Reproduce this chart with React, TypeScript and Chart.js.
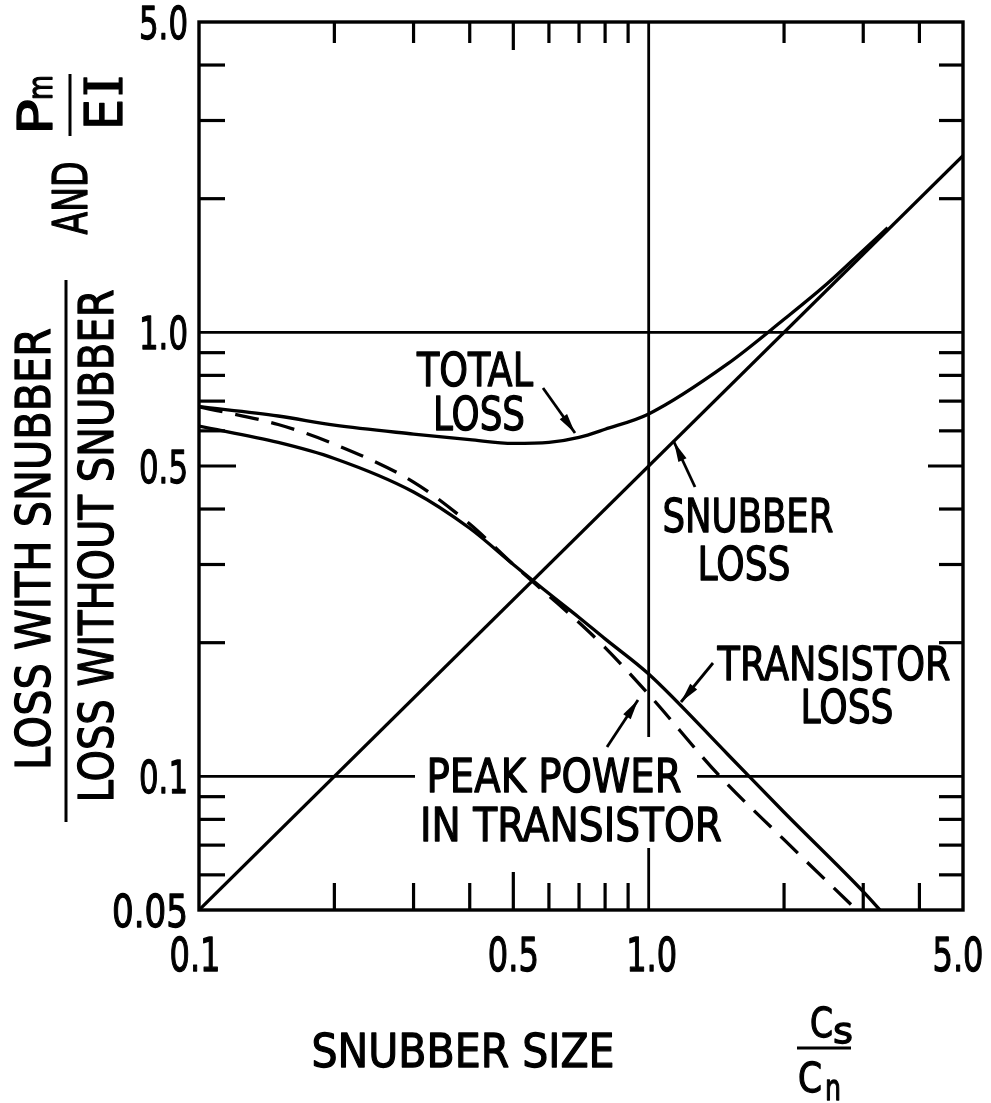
import React, { useEffect, useRef } from "react";
import { Chart, registerables } from "chart.js";

Chart.register(...registerables);

const W = 991;
const H = 1103;

// ---------- data ----------
const snubberX = [0.1, 5.0];
const snubberY = [0.05, 2.5];

const transistorX = [0.1, 0.15, 0.2, 0.3, 0.4, 0.5, 0.6, 0.7, 0.8, 1.0, 1.5, 2.0, 3.0, 3.27];
const transistorY = [0.615, 0.565, 0.52, 0.437, 0.362, 0.3, 0.258, 0.228, 0.204, 0.17, 0.112, 0.083, 0.055, 0.05];

const peakX = [0.1, 0.15, 0.2, 0.3, 0.4, 0.5, 0.6, 0.7, 0.8, 1.0, 1.44, 2.0, 2.9];
const peakY = [0.68, 0.62, 0.56, 0.46, 0.37, 0.3, 0.255, 0.222, 0.195, 0.153, 0.1, 0.072, 0.05];

const totalX = [0.1, 0.15, 0.2, 0.3, 0.4, 0.5, 0.6, 0.7, 0.8, 1.0, 1.5, 2.0, 2.5, 3.0, 3.4];
const totalY = [0.68, 0.648, 0.618, 0.59, 0.573, 0.562, 0.565, 0.58, 0.605, 0.655, 0.85, 1.07, 1.29, 1.53, 1.72];

const xMin = 0.1;
const xMax = 5.0;
const yMin = 0.05;
const yMax = 5.0;

const xTickValues = [0.2, 0.3, 0.4, 0.5, 0.6, 0.7, 0.8, 0.9, 2, 3, 4];
const yTickValues = [0.06, 0.07, 0.08, 0.09, 0.2, 0.3, 0.4, 0.5, 0.6, 0.7, 0.8, 0.9, 2, 3, 4];
const longTickValues = [0.5];
const xGridValues = [1.0];
const yGridValues = [0.1, 1.0];

const xLabelValues = [0.1, 0.5, 1.0, 5.0];
const xLabelTexts = ["0.1", "0.5", "1.0", "5.0"];
const yLabelValues = [0.05, 0.1, 0.5, 1.0, 5.0];
const yLabelTexts = ["0.05", "0.1", "0.5", "1.0", "5.0"];

// ---------- styling / layout ----------
const FONT = '"DejaVu Sans", "Liberation Sans", sans-serif';
const SERIF = '"DejaVu Serif", "Liberation Serif", serif';
const LINE_W = 3.3;

type Align = "left" | "center" | "right";

function txt(
  ctx: CanvasRenderingContext2D,
  s: string,
  x: number,
  y: number,
  size: number,
  width: number,
  align: Align,
  rot = 0,
  family = FONT
) {
  ctx.save();
  ctx.font = `${size}px ${family}`;
  const w = ctx.measureText(s).width || 1;
  ctx.translate(x, y);
  if (rot) ctx.rotate(rot);
  ctx.scale(width / w, 1);
  ctx.textAlign = align;
  ctx.textBaseline = "alphabetic";
  ctx.fillStyle = "#000";
  ctx.strokeStyle = "#000";
  ctx.lineWidth = 1.3;
  ctx.lineJoin = "round";
  ctx.fillText(s, 0, 0);
  ctx.strokeText(s, 0, 0);
  ctx.restore();
}

function seg(ctx: CanvasRenderingContext2D, x1: number, y1: number, x2: number, y2: number) {
  ctx.beginPath();
  ctx.moveTo(x1, y1);
  ctx.lineTo(x2, y2);
  ctx.stroke();
}

function arrow(ctx: CanvasRenderingContext2D, x1: number, y1: number, x2: number, y2: number) {
  ctx.save();
  ctx.lineWidth = 2.8;
  seg(ctx, x1, y1, x2, y2);
  const ang = Math.atan2(y2 - y1, x2 - x1);
  const len = 20;
  const hw = 4.5;
  const bx = x2 - len * Math.cos(ang);
  const by = y2 - len * Math.sin(ang);
  ctx.beginPath();
  ctx.moveTo(x2, y2);
  ctx.lineTo(bx + hw * Math.sin(ang), by - hw * Math.cos(ang));
  ctx.lineTo(bx - hw * Math.sin(ang), by + hw * Math.cos(ang));
  ctx.closePath();
  ctx.fillStyle = "#000";
  ctx.fill();
  ctx.restore();
}

// annotation layout (pixels)
const labels = [
  { t: "TOTAL", x: 475, y: 386, w: 116 },
  { t: "LOSS", x: 479, y: 430, w: 92 },
  { t: "SNUBBER", x: 748, y: 532, w: 171 },
  { t: "LOSS", x: 744, y: 580, w: 93 },
  { t: "TRANSISTOR", x: 834, y: 680, w: 233 },
  { t: "LOSS", x: 847, y: 723, w: 93 },
  { t: "PEAK POWER", x: 554, y: 792, w: 255 },
  { t: "IN TRANSISTOR", x: 571, y: 841, w: 302 },
];
const arrows = [
  [543, 388, 575, 433],
  [695, 487, 674, 442],
  [713, 663, 681, 702],
  [607, 747, 638, 700],
];
const whiteBoxes = [
  [415, 737, 697, 848],
  [714, 639, 950, 684],
];

const decor = {
  id: "decor",
  beforeDatasetsDraw(chart: any) {
    const { ctx, chartArea: a, scales } = chart;
    const xs = scales.x;
    const ys = scales.y;
    ctx.save();
    ctx.strokeStyle = "#000";
    ctx.lineCap = "butt";
    // major grid lines
    ctx.lineWidth = 2.8;
    xGridValues.forEach((v) => {
      const px = xs.getPixelForValue(v);
      seg(ctx, px, a.top, px, a.bottom);
    });
    yGridValues.forEach((v) => {
      const py = ys.getPixelForValue(v);
      seg(ctx, a.left, py, a.right, py);
    });
    // white boxes behind labels
    ctx.fillStyle = "#fff";
    whiteBoxes.forEach(([x0, y0, x1, y1]) => ctx.fillRect(x0, y0, x1 - x0, y1 - y0));
    // inward ticks
    ctx.lineWidth = 3.2;
    xTickValues.forEach((v) => {
      const px = xs.getPixelForValue(v);
      const long = longTickValues.includes(v);
      seg(ctx, px, a.bottom, px, a.bottom - (long ? 38 : 27));
      seg(ctx, px, a.top, px, a.top + (long ? 28 : 21));
    });
    yTickValues.forEach((v) => {
      const py = ys.getPixelForValue(v);
      const long = longTickValues.includes(v);
      seg(ctx, a.left, py, a.left + (long ? 37 : 26), py);
      seg(ctx, a.right, py, a.right - (long ? 35 : 24), py);
    });
    // frame
    ctx.lineWidth = 3.4;
    ctx.strokeRect(a.left, a.top, a.right - a.left, a.bottom - a.top);
    ctx.restore();
  },
  afterDatasetsDraw(chart: any) {
    const { ctx, chartArea: a, scales } = chart;
    const xs = scales.x;
    const ys = scales.y;
    ctx.save();
    ctx.strokeStyle = "#000";
    ctx.fillStyle = "#000";

    // tick labels
    yLabelValues.forEach((v, i) => {
      const py = ys.getPixelForValue(v);
      const t = yLabelTexts[i];
      const w = t.length === 4 ? 76 : 49;
      txt(ctx, t, a.left - 11, py + 17, 45, w, "right");
    });
    xLabelValues.forEach((v, i) => {
      const px = xs.getPixelForValue(v);
      const t = xLabelTexts[i];
      txt(ctx, t, px - (i === 0 ? 4 : 0) + (i === 3 ? -5 : 0) + (i === 2 ? 3 : 0), a.bottom + 61, 47, 51, "center");
    });

    // annotation labels
    labels.forEach((l) => txt(ctx, l.t, l.x, l.y, 46, l.w, "center"));
    arrows.forEach(([x1, y1, x2, y2]) => arrow(ctx, x1, y1, x2, y2));

    // x axis title
    txt(ctx, "SNUBBER SIZE", 463, 1067, 47, 303, "center");
    // Cs / Cn
    txt(ctx, "C", 810, 1037, 40, 23, "left");
    txt(ctx, "s", 833, 1043, 36, 20, "left");
    ctx.lineWidth = 3;
    seg(ctx, 797, 1048, 851, 1048);
    txt(ctx, "C", 798, 1092, 40, 24, "left");
    txt(ctx, "n", 825, 1100, 36, 16, "left");

    // y axis title (rotated)
    const R = -Math.PI / 2;
    txt(ctx, "LOSS WITH SNUBBER", 50, 549, 48, 442, "center", R);
    ctx.lineWidth = 3;
    seg(ctx, 66, 280, 66, 822);
    txt(ctx, "LOSS WITHOUT SNUBBER", 113, 546, 48, 513, "center", R);
    txt(ctx, "AND", 87, 198, 48, 73, "center", R);
    txt(ctx, "P", 52, 135, 48, 36, "left", R);
    txt(ctx, "m", 52, 100, 34, 25, "left", R);
    ctx.lineWidth = 3;
    seg(ctx, 70, 74, 70, 136);
    txt(ctx, "E", 122, 130, 52, 31, "left", R);
    txt(ctx, "I", 122, 97, 52, 22, "left", R, SERIF);

    ctx.restore();
  },
};

const toPoints = (xs: number[], ys: number[]) => xs.map((x, i) => ({ x, y: ys[i] }));

export default function App() {
  const ref = useRef<HTMLCanvasElement>(null);
  useEffect(() => {
    document.body.style.margin = "0";
    document.body.style.background = "#fff";
    const chart = new Chart(ref.current as HTMLCanvasElement, {
      type: "line",
      data: {
        datasets: [
          { label: "Snubber loss", data: toPoints(snubberX, snubberY), borderColor: "#000", borderWidth: LINE_W },
          { label: "Transistor loss", data: toPoints(transistorX, transistorY), borderColor: "#000", borderWidth: LINE_W },
          {
            label: "Peak power in transistor",
            data: toPoints(peakX, peakY),
            borderColor: "#000",
            borderWidth: LINE_W,
            borderDash: [24, 13],
          },
          { label: "Total loss", data: toPoints(totalX, totalY), borderColor: "#000", borderWidth: LINE_W },
        ],
      },
      options: {
        animation: false,
        responsive: false,
        events: [],
        layout: { padding: { left: 199, right: 28, top: 22, bottom: 193 } },
        plugins: { legend: { display: false }, tooltip: { enabled: false } },
        elements: {
          point: { radius: 0 },
          line: { cubicInterpolationMode: "monotone", borderCapStyle: "butt" },
        },
        scales: {
          x: { type: "logarithmic", min: xMin, max: xMax, display: false },
          y: { type: "logarithmic", min: yMin, max: yMax, display: false },
        },
      },
      plugins: [decor],
    } as any);
    return () => chart.destroy();
  }, []);
  return (
    <div style={{ width: W, height: H, background: "#fff" }}>
      <canvas ref={ref} width={W} height={H} style={{ display: "block", width: W, height: H }} />
    </div>
  );
}
